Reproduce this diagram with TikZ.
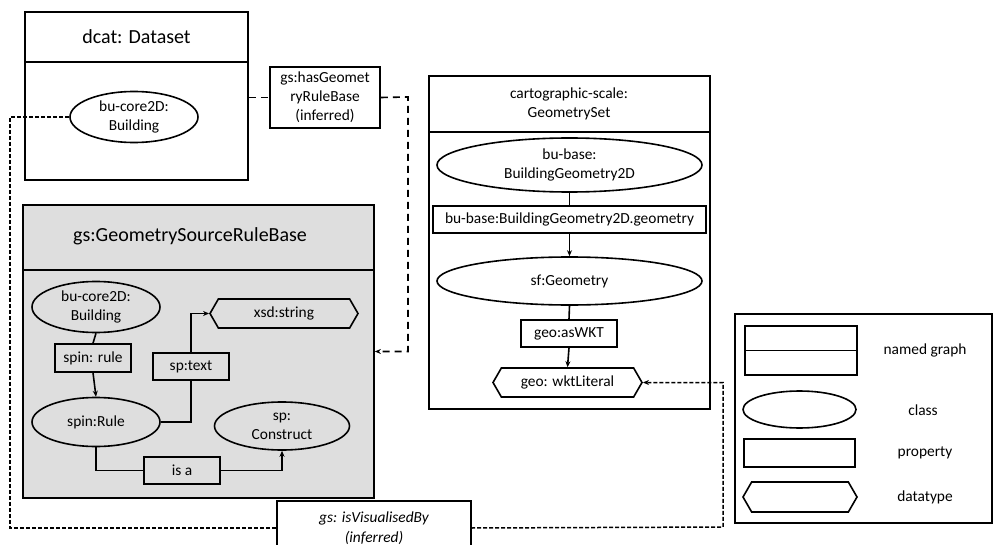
\documentclass[tikz,border=0pt]{standalone}
\usepackage{fontspec}
\setmainfont{Carlito}
\usetikzlibrary{shapes.geometric,shapes.symbols,arrows.meta}
\tikzset{
  x=1pt,y=-1pt,
  txt/.style={font=\fontsize{15.4}{19}\selectfont, align=center, inner sep=0pt},
  ttl/.style={font=\fontsize{20}{24}\selectfont, align=center, inner sep=0pt},
  graphbox/.style={draw, line width=1.7pt, inner sep=0pt},
  cls/.style={ellipse, draw, line width=1.6pt, inner sep=0pt, txt},
  prop/.style={rectangle, draw, line width=1.6pt, inner sep=0pt, txt},
  dtype/.style={signal, signal to=east and west, signal pointer angle=120, draw, line width=1.6pt, inner sep=0pt, txt},
  conn/.style={line width=1.6pt},
  arr/.style={line width=1.6pt, -{Stealth[length=6pt,width=5pt]}},
  dash1/.style={line width=1.6pt, dash pattern=on 7pt off 5pt},
  dash2/.style={line width=1.5pt, dash pattern=on 4pt off 2pt},
}
\begin{document}
\begin{tikzpicture}
\path[use as bounding box, fill=white] (0,0) rectangle (995,545);

% ---------- dcat:Dataset ----------
\node[graphbox, minimum width=223pt, minimum height=168pt] (dcat) at (136.5,96) {};
\draw[line width=1.6pt] (25,62) coordinate (dsepl) -- (248,62) coordinate (dsepr);
\node[ttl] (dcatT) at (136.5,37) {dcat: Dataset};
\node[cls, minimum width=128pt, minimum height=51pt] (e1) at (134,117) {bu-core2D:\\Building};

% ---------- hasGeometryRuleBase ----------
\node[prop, minimum width=110pt, minimum height=61pt] (hasg) at (325,97.5) {gs:hasGeomet\\ryRuleBase\\(inferred)};

% ---------- gs:GeometrySourceRuleBase ----------
\node[graphbox, fill=black!13, minimum width=351pt, minimum height=293pt] (gs) at (198.5,351.5) {};
\draw[line width=1.6pt] (23,270) coordinate (gsepl) -- (374,270) coordinate (gsepr);
\node[ttl] (gsT) at (190,236) {gs:GeometrySourceRuleBase};

\node[cls, minimum width=128pt, minimum height=51pt] (e2) at (96,307) {bu-core2D:\\Building};
\node[prop, minimum width=76pt, minimum height=28pt] (r1) at (93,358) {spin: rule};
\node[cls, minimum width=128pt, minimum height=49pt] (e3) at (96,422) {spin:Rule};
\node[prop, minimum width=76pt, minimum height=27pt] (r2) at (191,366.5) {sp:text};
\node[dtype, minimum width=148pt, minimum height=29pt] (h1) at (284,313.5) {xsd:string};
\node[cls, minimum width=135pt, minimum height=48pt] (e4) at (282,426) {sp:\\Construct};
\node[prop, minimum width=76pt, minimum height=27pt] (r3) at (182,470.5) {is a};

\draw[conn] (e2.south) -- (r1.north);
\draw[arr] (r1.south) -- (e3.north);
\draw[conn] (e3.east) -| (r2.south);
\draw[arr] (r2.north) |- (h1.west);
\draw[conn] (e3.south) |- (r3.west);
\draw[arr] (r3.east) -| (e4.south);

% ---------- cartographic-scale:GeometrySet ----------
\node[graphbox, minimum width=281pt, minimum height=333pt] (cart) at (569.5,242.5) {};
\draw[line width=1.6pt] (429,132) coordinate (csepl) -- (710,132) coordinate (csepr);
\node[txt] (cartT) at (569,104) {cartographic-scale:\\GeometrySet};
\node[cls, minimum width=265pt, minimum height=54pt] (e5) at (569.5,165) {bu-base:\\BuildingGeometry2D};
\node[prop, minimum width=273pt, minimum height=27pt] (r4) at (569.5,219.5) {bu-base:BuildingGeometry2D.geometry};
\node[cls, minimum width=265pt, minimum height=48pt] (e6) at (569.5,281) {sf:Geometry};
\node[prop, minimum width=96pt, minimum height=27pt] (r5) at (569,333.5) {geo:asWKT};
\node[dtype, minimum width=149pt, minimum height=29pt] (h2) at (567.5,382.5) {geo: wktLiteral};

\draw[conn] (e5.south) -- (r4.north);
\draw[arr] (r4.south) -- (e6.north);
\draw[conn] (e6.south) -- (r5.north);
\draw[arr] (r5.south) -- (h2.north);

% ---------- gs:isVisualisedBy ----------
\node[txt, minimum width=194pt, minimum height=54pt, font=\itshape\fontsize{15.4}{20}\selectfont] (vis) at (374,528) {gs: isVisualisedBy\\(inferred)};
\draw[line width=1.6pt] (vis.south west) -- (vis.north west) -- (vis.north east) -- (vis.south east);

% ---------- dashed connectors ----------
\coordinate (c1) at (408,97);
\coordinate (c2) at (10,117);
\coordinate (c3) at (723,527);
\draw[dash1] (dcat.east |- hasg.west) -- (hasg.west);
\draw[dash1, -{Stealth[length=6pt,width=5pt]}] (hasg.east) -- (c1) |- (gs.east);
\draw[dash2] (e1.west) -- (c2) |- (vis.west);
\draw[dash2, -{Stealth[length=6pt,width=5pt]}] (vis.east) -- (c3) |- (h2.east);

% ---------- legend ----------
\node[graphbox, line width=1.5pt, minimum width=257pt, minimum height=209pt] (leg) at (863.5,418.5) {};
\node[graphbox, line width=1.6pt, minimum width=112pt, minimum height=49pt] (lg1) at (801,350.5) {};
\draw[line width=1.6pt] (lg1.west) -- (lg1.east);
\node[txt] (lt1) at (925,350) {named graph};
\node[cls, minimum width=113pt, minimum height=37pt] (lg2) at (799.5,409.5) {};
\node[txt] (lt2) at (923,410) {class};
\node[prop, minimum width=111pt, minimum height=28pt] (lg3) at (799.5,453) {};
\node[txt] (lt3) at (925,453) {property};
\node[dtype, minimum width=114pt, minimum height=30pt] (lg4) at (800,497) {};
\node[txt] (lt4) at (925,497) {datatype};
\end{tikzpicture}
\end{document}
